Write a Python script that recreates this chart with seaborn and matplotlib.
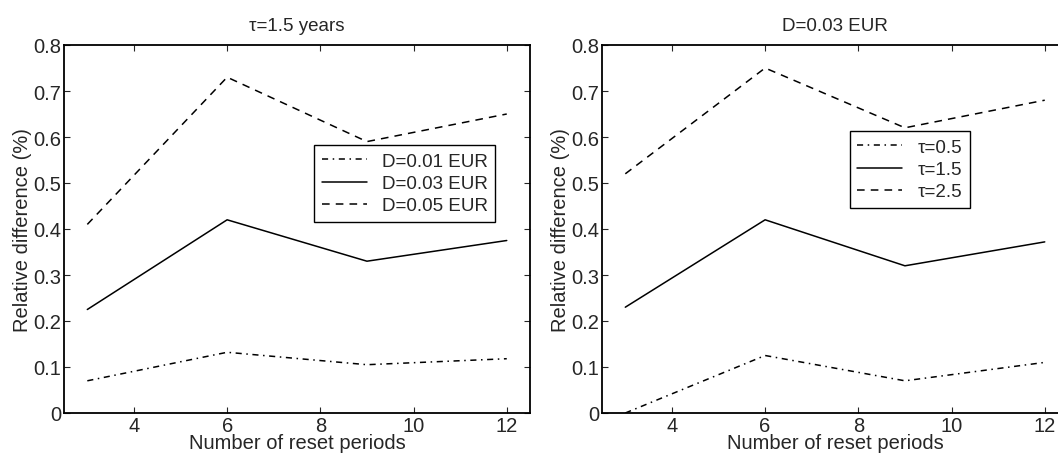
import matplotlib
matplotlib.use("Agg")
import matplotlib.pyplot as plt
import pandas as pd
import seaborn as sns

# data
periods = [3, 6, 9, 12]

left_labels = ["D=0.01 EUR", "D=0.03 EUR", "D=0.05 EUR"]
left_d001 = [0.07, 0.132, 0.105, 0.118]
left_d003 = [0.225, 0.42, 0.33, 0.375]
left_d005 = [0.41, 0.73, 0.59, 0.65]

right_labels = ["τ=0.5", "τ=1.5", "τ=2.5"]
right_t05 = [0.0, 0.125, 0.07, 0.11]
right_t15 = [0.23, 0.42, 0.32, 0.372]
right_t25 = [0.52, 0.75, 0.62, 0.68]

x_ticks = [4, 6, 8, 10, 12]
y_ticks = [0, 0.1, 0.2, 0.3, 0.4, 0.5, 0.6, 0.7, 0.8]
y_tick_labels = ["0", "0.1", "0.2", "0.3", "0.4", "0.5", "0.6", "0.7", "0.8"]

DASH_STYLES = [(4, 3, 1, 3), "", (5, 4)]


def long_frame(labels, series):
    rows = []
    for label, values in zip(labels, series):
        for p, v in zip(periods, values):
            rows.append({"periods": p, "value": v, "series": label})
    return pd.DataFrame(rows)


def configure_plot_style():
    sns.set_style("ticks")
    plt.rcParams.update({
        "font.family": ["Liberation Sans", "DejaVu Sans"],
        "axes.edgecolor": "black",
        "axes.linewidth": 1.3,
        "xtick.direction": "in",
        "ytick.direction": "in",
        "xtick.top": True,
        "ytick.right": True,
        "xtick.major.size": 4,
        "ytick.major.size": 4,
        "xtick.labelsize": 14.5,
        "ytick.labelsize": 14.5,
        "axes.labelsize": 14.5,
    })


def draw_panel(ax, df, labels, title, anchor, loc):
    sns.lineplot(
        data=df,
        x="periods",
        y="value",
        style="series",
        style_order=labels,
        dashes=dict(zip(labels, DASH_STYLES)),
        color="black",
        linewidth=1.1,
        ax=ax,
    )
    ax.set_xlim(2.5, 12.5)
    ax.set_ylim(0, 0.8)
    ax.set_xticks(x_ticks)
    ax.set_yticks(y_ticks)
    ax.set_yticklabels(y_tick_labels)
    ax.tick_params(axis="both", pad=2)
    ax.set_xlabel("Number of reset periods", labelpad=-1)
    ax.set_ylabel("Relative difference (%)", labelpad=1)
    ax.set_title(title, fontsize=13.5, pad=11)
    handles, _ = ax.get_legend_handles_labels()
    leg = ax.legend(
        handles, labels, loc=loc, bbox_to_anchor=anchor,
        frameon=True, fancybox=False, framealpha=1,
        edgecolor="black", fontsize=13.5, handlelength=2.4,
        labelspacing=0.28, borderpad=0.4, handletextpad=0.8,
        borderaxespad=0,
    )
    leg.get_frame().set_linewidth(1.0)


configure_plot_style()
fig = plt.figure(figsize=(10.58, 4.6), dpi=100)
ax1 = fig.add_axes([0.0605, 0.1, 0.4405, 0.8])
ax2 = fig.add_axes([0.569, 0.1, 0.4405, 0.8])

draw_panel(ax1, long_frame(left_labels, [left_d001, left_d003, left_d005]),
           left_labels, "τ=1.5 years", (0.925, 0.728), "upper right")
draw_panel(ax2, long_frame(right_labels, [right_t05, right_t15, right_t25]),
           right_labels, "D=0.03 EUR", (0.532, 0.766), "upper left")

fig.savefig("out.png", dpi=100)
